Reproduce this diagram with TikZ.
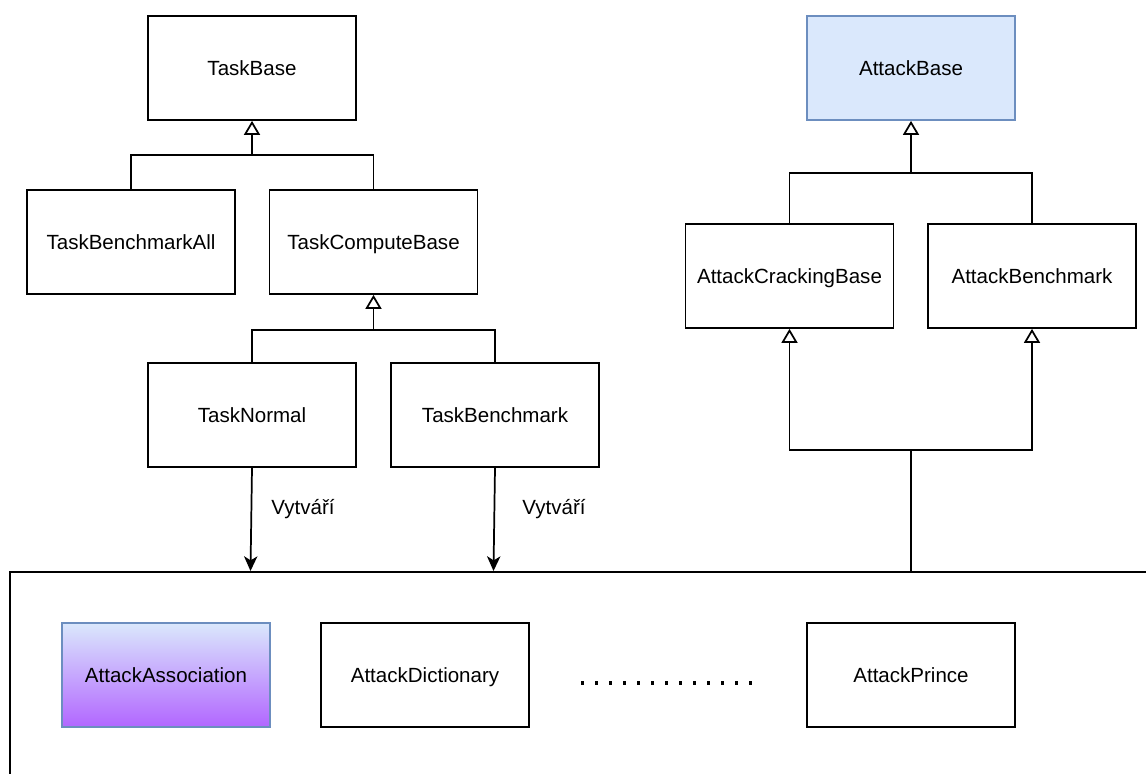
\documentclass[tikz,border=0pt]{standalone}
\usepackage{fontspec}
\setmainfont{Liberation Sans}
\usetikzlibrary{arrows.meta}
\definecolor{bluefill}{HTML}{DAE8FC}
\definecolor{blueline}{HTML}{6C8EBF}
\definecolor{purplebottom}{HTML}{B266FF}
\begin{document}
\begin{tikzpicture}[x=0.75pt,y=-0.75pt,
  box/.style={draw, line width=1.3pt, minimum width=156pt, minimum height=78pt,
              inner sep=0pt, text height=11pt, text depth=0pt,
              font=\fontsize{15.4}{18}\selectfont},
  link/.style={line width=1.3pt},
  inherit/.style={line width=1.3pt, -{Triangle[open, width=12pt, length=10.5pt, line width=1.3pt]}},
  creates/.style={line width=1.3pt, -{Stealth[width=10pt, length=11pt, inset=3pt]}},
  lbl/.style={font=\fontsize{15.4}{18}\selectfont, inner sep=0pt}]
\clip (0,0) rectangle (1146,774);
\fill[white] (0,0) rectangle (1146,774);

% task hierarchy
\node[box] (taskbase) at (252,68) {TaskBase};
\node[box] (benchall) at (131,242) {TaskBenchmarkAll};
\node[box] (compute) at (373.5,242) {TaskComputeBase};
\node[box] (normal) at (252,415) {TaskNormal};
\node[box] (bench) at (495,415) {TaskBenchmark};

% attack hierarchy
\node[box, fill=bluefill, draw=blueline] (attackbase) at (911,68) {AttackBase};
\node[box] (cracking) at (789.5,276) {AttackCrackingBase};
\node[box] (attbench) at (1032,276) {AttackBenchmark};

% container of the concrete attacks
\node[draw, line width=1.3pt, minimum width=900pt, minimum height=200pt,
      anchor=north west, inner sep=0pt] (group) at (9,571) {};
\node[box, draw=blueline, top color=bluefill, bottom color=purplebottom] (assoc) at (166,675) {AttackAssociation};
\node[box] (dict) at (425,675) {AttackDictionary};
\node[box] (prince) at (911,675) {AttackPrince};
\draw[line width=2.4pt, dash pattern=on 2.4pt off 8.1pt, line cap=butt] (581,683) -- (752,683);

% inheritance connectors, task side
\coordinate (j1) at (252,155);
\draw[link] (benchall.north) |- (j1) -| (compute.north);
\draw[inherit] (j1) -- (taskbase.south);
\coordinate (j2) at (373.5,330);
\draw[link] (normal.north) |- (j2) -| (bench.north);
\draw[inherit] (j2) -- (compute.south);

% inheritance connectors, attack side
\coordinate (j3) at (911,173);
\draw[link] (cracking.north) |- (j3) -| (attbench.north);
\draw[inherit] (j3) -- (attackbase.south);
\coordinate (j4) at (911,450);
\draw[link] (prince.north |- group.north) -- (j4);
\draw[inherit] (j4) -| (cracking.south);
\draw[inherit] (j4) -| (attbench.south);

% creation connectors
\coordinate (c1) at (250.5,571);
\coordinate (c2) at (493.5,571);
\draw[creates] (normal.south) -- (c1);
\draw[creates] (bench.south) -- (c2);
\node[lbl] (lbl1) at (303,509) {Vytváří};
\node[lbl] (lbl2) at (554,509) {Vytváří};
\end{tikzpicture}
\end{document}
